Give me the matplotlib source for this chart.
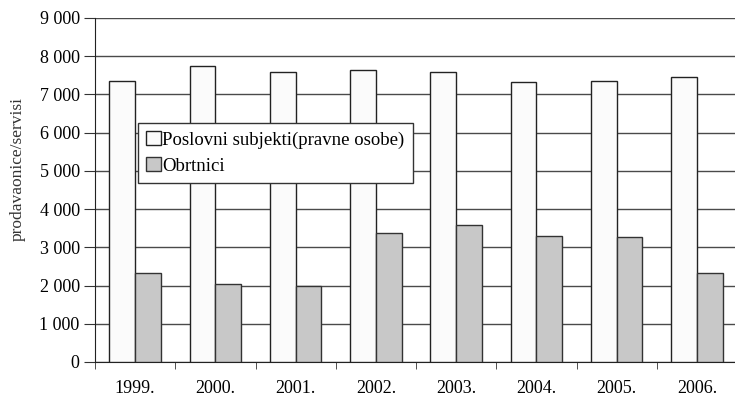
import numpy as np
import matplotlib
matplotlib.use("Agg")
from matplotlib import pyplot as plt
from matplotlib.ticker import FuncFormatter

years = ['1999.', '2000.', '2001.', '2002.', '2003.', '2004.', '2005.', '2006.']
poslovni = [7340, 7740, 7600, 7630, 7600, 7320, 7340, 7450]
obrtnici = [2320, 2030, 2000, 3370, 3580, 3290, 3260, 2340]

plt.rcParams['font.family'] = ['Liberation Serif', 'DejaVu Serif']

fig = plt.figure(figsize=(7.35, 4.05), dpi=100)
ax = fig.add_axes([95 / 735, 43 / 405, 642 / 735, 344 / 405])

x = np.arange(len(years))
w = 0.32
ax.bar(x - w / 2, poslovni, w, color='#fbfbfb', edgecolor='#222222',
       linewidth=1, label='Poslovni subjekti(pravne osobe)', zorder=3)
ax.bar(x + w / 2, obrtnici, w, color='#c8c8c8', edgecolor='#333333',
       linewidth=1, label='Obrtnici', zorder=3)

ax.set_xlim(-0.5, len(years) - 0.5)
ax.set_ylim(0, 9000)
ax.set_yticks(range(0, 9001, 1000))
ax.yaxis.set_major_formatter(FuncFormatter(lambda v, p: f'{int(v):,}'.replace(',', ' ')))
ax.yaxis.grid(True, color='#4a4a4a', linewidth=1, zorder=0)

ax.set_xticks(x)
ax.set_xticklabels(years)
ax.set_xticks(np.arange(-0.5, len(years)), minor=True)
ax.tick_params(axis='x', which='major', length=0, pad=13, labelsize=13)
ax.tick_params(axis='x', which='minor', length=5, direction='out', color='#333333')
ax.tick_params(axis='y', length=8, direction='out', labelsize=13, pad=3, color='#333333')

for s in ['top', 'right']:
    ax.spines[s].set_visible(False)
ax.spines['left'].set_color('#222222')
ax.spines['bottom'].set_color('#222222')

ax.set_ylabel('prodavaonice/servisi', fontsize=12.5, color='#333333')
ax.yaxis.set_label_coords(-0.108, 0.56)

leg = ax.legend(loc='upper left', bbox_to_anchor=(0.067, 0.695), borderaxespad=0,
                fontsize=13.5, fancybox=False, framealpha=1, edgecolor='#333333',
                handlelength=0.75, handleheight=0.75, handletextpad=0.1,
                borderpad=0.45, labelspacing=0.45)
leg.get_frame().set_linewidth(1)

fig.savefig('out.png', dpi=100)
